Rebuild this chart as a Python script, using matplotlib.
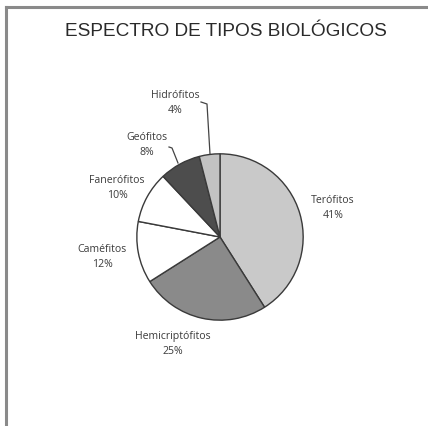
import numpy as np
import matplotlib
matplotlib.use("Agg")
import matplotlib.pyplot as plt
from matplotlib.lines import Line2D

title = "ESPECTRO DE TIPOS BIOLÓGICOS"
categories = ["Terófitos", "Hemicriptófitos", "Caméfitos", "Fanerófitos", "Geófitos", "Hidrófitos"]
values = [41, 25, 12, 10, 8, 4]
colors = ["#c9c9c9", "#8a8a8a", "#ffffff", "#ffffff", "#4d4d4d", "#c2c2c2"]

W, H = 428, 426
fig = plt.figure(figsize=(W / 100, H / 100), dpi=100)
ax = fig.add_axes([0, 0, 1, 1])
ax.set_xlim(0, W)
ax.set_ylim(H, 0)
ax.axis("off")

# pixel-space layout (y downward)
cx, cy, R = 220, 237, 84

pax = fig.add_axes([(cx - R) / W, 1 - (cy + R) / H, 2 * R / W, 2 * R / H])
wedges, _ = pax.pie(values, colors=colors, startangle=90, counterclock=False,
                    radius=1.0, wedgeprops=dict(edgecolor="#3a3a3a", linewidth=1.0))
pax.set_xlim(-1.01, 1.01)
pax.set_ylim(-1.01, 1.01)
pax.set_aspect("equal")
pax.axis("off")

# border (top and left)
ax.add_line(Line2D([6.5, 6.5], [H, 6.5], color="#8a8a8a", lw=2.2))
ax.add_line(Line2D([6.5, W], [6.5, 6.5], color="#8a8a8a", lw=2.2))

ax.text(226, 32, title, ha="center", va="center", fontsize=13.7,
        family="Liberation Sans", color="#2a2a2a")

label_pos = {
    "Terófitos": (333, 208),
    "Hemicriptófitos": (173, 344),
    "Caméfitos": (102, 257),
    "Fanerófitos": (117, 188),
    "Geófitos": (147, 145),
    "Hidrófitos": (175, 103),
}
for cat, v in zip(categories, values):
    x, y = label_pos[cat]
    ax.text(x, y, f"{cat}\n{v}%", ha="center", va="center", fontsize=7.6,
            family="Open Sans", color="#3c3c3c", linespacing=1.4)

# leader lines
ax.add_line(Line2D([201, 207, 210], [102, 104, 154], color="#444444", lw=0.9))
ax.add_line(Line2D([169, 172, 178], [147, 148, 163], color="#444444", lw=0.9))

fig.savefig("out.png", dpi=100, facecolor="white")
